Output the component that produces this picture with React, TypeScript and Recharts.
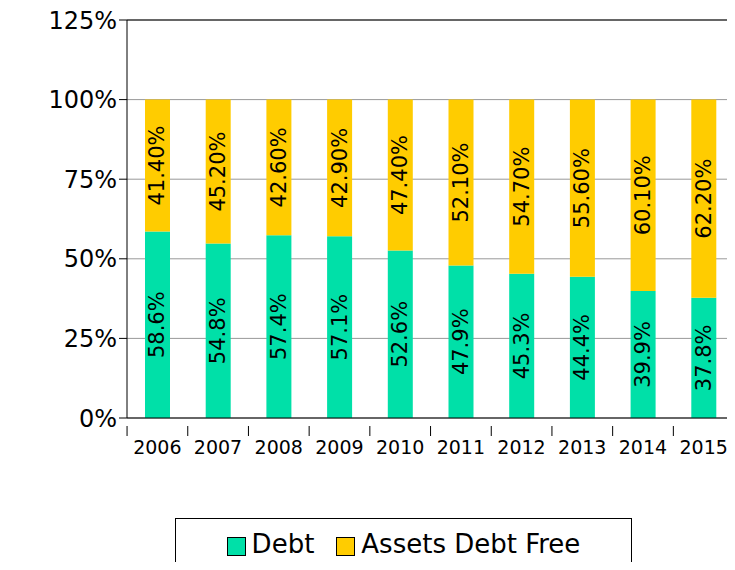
import React from 'react';
import { BarChart, Bar, XAxis, YAxis, CartesianGrid, LabelList, Legend, ReferenceLine } from 'recharts';

const years = ['2006','2007','2008','2009','2010','2011','2012','2013','2014','2015'];
const debt = [58.6,54.8,57.4,57.1,52.6,47.9,45.3,44.4,39.9,37.8];
const free = [41.4,45.2,42.6,42.9,47.4,52.1,54.7,55.6,60.1,62.2];
const debtLabels = ['58.6%','54.8%','57.4%','57.1%','52.6%','47.9%','45.3%','44.4%','39.9%','37.8%'];
const freeLabels = ['41.40%','45.20%','42.60%','42.90%','47.40%','52.10%','54.70%','55.60%','60.10%','62.20%'];
const yTicks = [0,25,50,75,100,125];

const data = years.map((y,i)=>({year:y, debt:debt[i], free:free[i], dl:debtLabels[i], fl:freeLabels[i]}));
const FONT = 'DejaVu Sans';

const RotLabel = (props:any) => {
  const {x,y,width,height,value} = props;
  const cx = x + width/2, cy = y + height/2;
  return <text x={cx} y={cy} transform={`rotate(-90 ${cx} ${cy})`} textAnchor="middle" dominantBaseline="central" fontSize={21} fontFamily={FONT} fill="#000">{value}</text>;
};

const XTick = (props:any) => {
  const {x,y,payload} = props;
  const half = 606/10/2;
  return <g>
    <line x1={x-half} x2={x-half} y1={y} y2={y+10} stroke="#000"/>
    {payload.index===9 && <line x1={x+half} x2={x+half} y1={y} y2={y+10} stroke="#000"/>}
    <text x={x} y={y+28} textAnchor="middle" style={{fontSize:19}} fontFamily={FONT} fill="#000">{payload.value}</text>
  </g>;
};

const LegendBox = () => (
  <div style={{display:'flex',justifyContent:'center',height:60,paddingLeft:73,boxSizing:'border-box',paddingTop:8}}>
    <div style={{border:'1px solid #000',borderBottom:'none',display:'flex',alignItems:'flex-start',padding:'10px 16px 0',fontFamily:FONT,fontSize:26,width:457,boxSizing:'border-box',justifyContent:'center'}}>
      <span style={{width:17,height:17,background:'#00E0A8',border:'1px solid #000',display:'inline-block',marginRight:6,marginTop:8}}/>Debt
      <span style={{width:17,height:17,background:'#FFCC00',border:'1px solid #000',display:'inline-block',marginLeft:22,marginRight:6,marginTop:8}}/>Assets Debt Free
    </div>
  </div>
);

export default function App(){
  return <div style={{margin:-8,width:735,height:570,overflow:'hidden'}}>
    <BarChart width={735} height={570} data={data} margin={{top:20,right:1,bottom:0,left:0}}>
      <CartesianGrid vertical={false} stroke="#999"/>
      <CartesianGrid horizontal={false} verticalPoints={[733]} stroke="#000"/>
      <XAxis dataKey="year" tick={<XTick/>} tickLine={false} stroke="#000" interval={0} height={92}/>
      <YAxis domain={[0,125]} ticks={yTicks} tickFormatter={(v:number)=>v+'%'} width={127} stroke="#000" tick={{fontSize:24,fontFamily:FONT,fill:'#000'}} tickSize={8}/>
      <ReferenceLine y={125} stroke="#000"/>
      <Legend verticalAlign="bottom" content={<LegendBox/>} height={60}/>
      <Bar dataKey="debt" stackId="a" fill="#00E0A8" barSize={25} isAnimationActive={false}>
        <LabelList dataKey="dl" content={RotLabel}/>
      </Bar>
      <Bar dataKey="free" stackId="a" fill="#FFCC00" barSize={25} isAnimationActive={false}>
        <LabelList dataKey="fl" content={RotLabel}/>
      </Bar>
    </BarChart>
  </div>;
}
